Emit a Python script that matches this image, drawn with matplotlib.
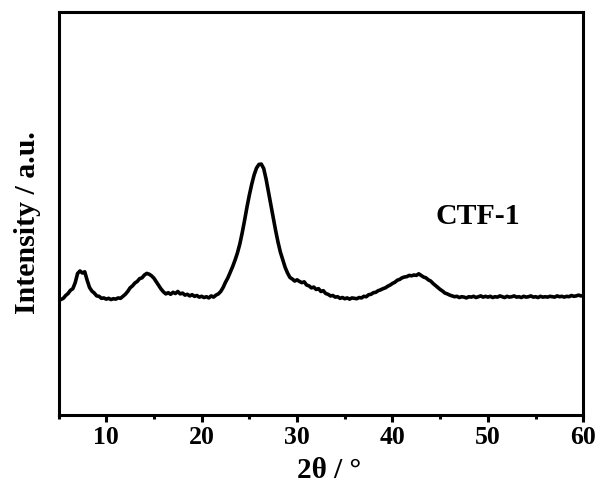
import numpy as np
import matplotlib
matplotlib.use("Agg")
import matplotlib.pyplot as plt
from matplotlib.ticker import MultipleLocator

# scan grid, 2theta in degrees (0.25 step)
two_theta = np.arange(5.0, 60.001, 0.25)

# intensity (arbitrary units)
intensity = [
    28.4, 28.6, 28.9, 29.6, 30.1, 30.9, 31.3, 32.8, 35.1, 35.7, 35.2, 35.5, 33.4, 31.6, 30.7, 30.2, 29.5, 29.4, 28.9, 29.0,
    28.7, 28.9, 28.6, 28.8, 28.7, 29.0, 28.9, 29.4, 29.9, 30.6, 31.5, 32.0, 32.7, 33.1, 33.8, 34.0, 34.7, 35.1, 34.9, 34.5,
    33.9, 33.0, 32.1, 31.2, 30.5, 30.0, 30.3, 29.9, 30.4, 30.1, 30.6, 30.0, 30.2, 29.7, 29.9, 29.5, 29.8, 29.4, 29.6, 29.2,
    29.4, 29.1, 29.3, 29.0, 29.5, 29.2, 29.7, 30.0, 30.6, 31.6, 32.9, 34.0, 35.4, 36.8, 38.4, 40.2, 42.4, 45.2, 48.3, 51.6,
    54.6, 57.3, 59.6, 61.3, 62.2, 62.3, 61.2, 58.6, 55.4, 52.1, 49.0, 45.8, 42.9, 40.4, 38.5, 36.6, 35.2, 34.1, 33.7, 33.2,
    33.5, 33.1, 32.8, 33.0, 32.2, 32.0, 31.5, 31.7, 31.1, 31.3, 30.6, 30.8, 30.1, 29.9, 29.5, 29.6, 29.2, 29.3, 28.9, 29.1,
    28.8, 29.0, 28.7, 29.0, 28.9, 28.8, 29.1, 29.0, 29.4, 29.3, 29.8, 29.9, 30.3, 30.4, 30.8, 31.0, 31.3, 31.5, 31.9, 32.2,
    32.6, 32.9, 33.4, 33.6, 34.0, 34.2, 34.3, 34.6, 34.5, 34.7, 34.6, 35.0, 34.6, 34.2, 34.0, 33.5, 33.2, 32.6, 32.1, 31.6,
    31.1, 30.7, 30.2, 30.0, 29.7, 29.5, 29.3, 29.4, 29.1, 29.3, 29.2, 29.0, 29.3, 29.2, 29.4, 29.1, 29.3, 29.5, 29.2, 29.4,
    29.2, 29.4, 29.1, 29.3, 29.2, 29.5, 29.3, 29.1, 29.4, 29.2, 29.3, 29.5, 29.2, 29.3, 29.1, 29.4, 29.2, 29.3, 29.5, 29.2,
    29.3, 29.1, 29.4, 29.2, 29.3, 29.2, 29.4, 29.3, 29.2, 29.5, 29.3, 29.4, 29.2, 29.4, 29.3, 29.6, 29.4, 29.5, 29.7, 29.5,
    29.6,
]

sample_label = "CTF-1"

plt.rcParams['font.family'] = ['Liberation Serif', 'DejaVu Serif']
plt.rcParams['font.weight'] = 'bold'

fig = plt.figure(figsize=(6.02, 4.88), dpi=100)
ax = fig.add_axes([0.0972, 0.1506, 0.8718, 0.8238])

ax.plot(two_theta, intensity, color='black', lw=2.6)

ax.set_xlim(5, 60)
ax.set_ylim(0, 100)
ax.xaxis.set_major_locator(MultipleLocator(10))
ax.xaxis.set_minor_locator(MultipleLocator(5))
ax.set_yticks([])

for s in ax.spines.values():
    s.set_linewidth(2.2)
ax.tick_params(axis='x', which='major', direction='out', length=5, width=2.2,
               labelsize=18.5, pad=3.5)
ax.tick_params(axis='x', which='minor', direction='out', length=3, width=2.2)
for t in ax.get_xticklabels():
    t.set_fontweight('bold')

ax.set_xlabel("2θ / °", fontsize=21, fontweight='bold')
ax.xaxis.set_label_coords(0.515, -0.105)
ax.set_ylabel("Intensity / a.u.", fontsize=21.5, fontweight='bold')
ax.yaxis.set_label_coords(-0.033, 0.478)

ax.text(48.9, 49.3, sample_label, fontsize=21.5, fontweight='bold',
        ha='center', va='center')

fig.savefig("out.png", dpi=100)
